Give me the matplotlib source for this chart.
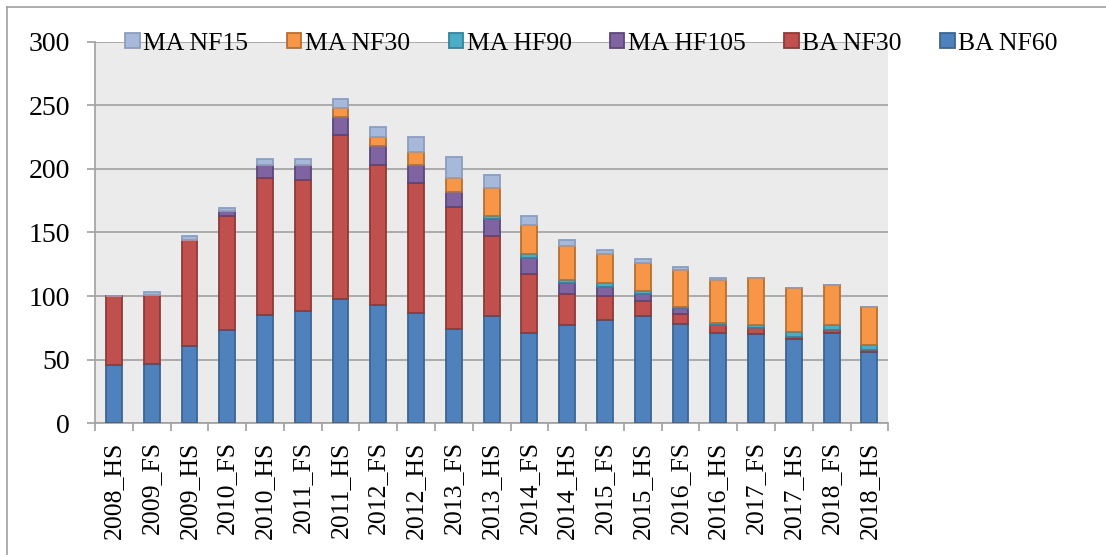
import matplotlib
matplotlib.use("Agg")
import matplotlib.pyplot as plt
from matplotlib.patches import Patch
from matplotlib.lines import Line2D
import numpy as np

categories = ["2008_HS", "2009_FS", "2009_HS", "2010_FS", "2010_HS", "2011_FS", "2011_HS",
              "2012_FS", "2012_HS", "2013_FS", "2013_HS", "2014_FS", "2014_HS", "2015_FS",
              "2015_HS", "2016_FS", "2016_HS", "2017_FS", "2017_HS", "2018_FS", "2018_HS"]

ba_nf60 = [46, 47, 61, 73, 85, 88, 98, 93, 87, 74, 84, 71, 77, 81, 84, 78, 71, 70, 66, 71, 56]
ba_nf30 = [54, 54, 83, 90, 108, 103, 129, 110, 102, 96, 63, 46, 25, 19, 12, 8, 6.5, 5, 2, 2, 1.5]
ma_hf105 = [0, 0, 0, 4, 10, 12, 14, 15, 14, 12, 14, 13, 8, 7, 6, 4.5, 0, 0, 0, 0, 0]
ma_hf90 = [0, 0, 0, 0, 0, 0, 0, 0, 0, 0, 2, 3, 3, 3, 2, 1, 1.5, 2, 4, 4, 4]
ma_nf30 = [0, 0, 0, 0, 0, 0, 7, 7, 10, 11, 22, 23, 26, 23, 22, 29, 34, 37, 34, 32, 30]
ma_nf15 = [0, 2, 3, 2, 5, 5, 7, 8, 12, 16, 10, 7, 5, 3, 3, 2, 1.5, 0, 0, 0, 0]

series = [
    ("BA NF60", ba_nf60, "#4F81BD", "#3B6594"),
    ("BA NF30", ba_nf30, "#C0504D", "#8F3A38"),
    ("MA HF105", ma_hf105, "#8064A2", "#5C477A"),
    ("MA HF90", ma_hf90, "#4BACC6", "#31849B"),
    ("MA NF30", ma_nf30, "#F79646", "#B6702F"),
    ("MA NF15", ma_nf15, "#A7B9DB", "#8C9EBD"),
]

plt.rcParams['font.family'] = ['Liberation Serif', 'DejaVu Serif']

fig = plt.figure(figsize=(11.06, 5.55), dpi=100)
ax = fig.add_axes([95/1106, 1-423.3/555, (888.3-95)/1106, (423.3-41.7)/555])
ax.set_facecolor("#EBEBEB")

x = np.arange(len(categories))
bottom = np.zeros(len(categories))
handles = {}
for name, vals, fc, ec in series:
    v = np.array(vals, dtype=float)
    ax.bar(x, v, width=0.42, bottom=bottom, color=fc, edgecolor=ec, linewidth=1.3, zorder=3)
    handles[name] = Patch(facecolor=fc, edgecolor=ec, linewidth=1.3)
    bottom += v

ax.set_xlim(-0.5, len(categories) - 0.5)
ax.set_ylim(0, 300)
ax.set_yticks(np.arange(0, 301, 50))
ax.yaxis.grid(True, color="#A0A0A0", linewidth=1.2, zorder=0)
ax.set_axisbelow(True)

ax.set_xticks(x)
ax.set_xticklabels(categories, rotation=90, fontsize=18.5)
ax.set_xticks(np.arange(-0.5, len(categories), 1.0), minor=True)
ax.tick_params(axis='x', which='major', length=0, pad=13)
ax.tick_params(axis='x', which='minor', length=6, width=1.2, color="#A0A0A0", direction='out')
ax.tick_params(axis='y', which='major', length=6, width=1.2, color="#A0A0A0", pad=12, labelsize=20)

for s in ["top", "right"]:
    ax.spines[s].set_visible(False)
for s in ["left", "bottom"]:
    ax.spines[s].set_color("#A0A0A0")
    ax.spines[s].set_linewidth(1.2)

order = ["MA NF15", "MA NF30", "MA HF90", "MA HF105", "BA NF30", "BA NF60"]
fig.legend([handles[n] for n in order], order, loc='center', bbox_to_anchor=(0.535, 0.921),
           ncol=6, frameon=False, fontsize=18.5, handlelength=0.55, handleheight=0.55,
           handletextpad=0.15, columnspacing=1.5, borderaxespad=0)

fig.add_artist(Line2D([7/1106, 7/1106], [0, 1-6.5/555], color="#A0A0A0", linewidth=1.2,
                      transform=fig.transFigure))
fig.add_artist(Line2D([7/1106, 1], [1-6.5/555, 1-6.5/555], color="#A0A0A0", linewidth=1.2,
                      transform=fig.transFigure))

fig.savefig("out.png", dpi=100)
